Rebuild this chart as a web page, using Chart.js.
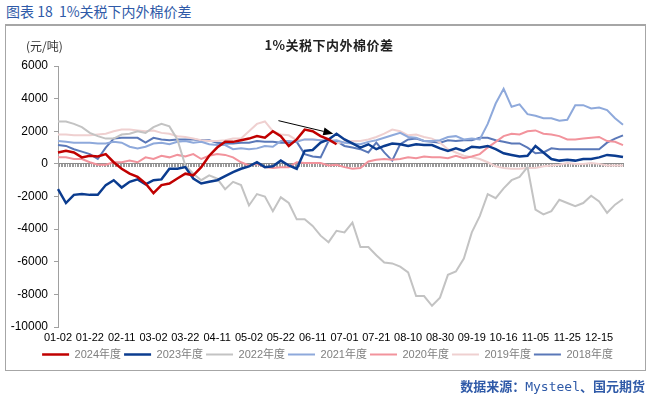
<!DOCTYPE html>
<html>
<head>
<meta charset="utf-8">
<script src="https://cdn.jsdelivr.net/npm/chart.js@4.4.0/dist/chart.umd.min.js"></script>
<style>
  body { margin: 0; width: 652px; height: 395px; background: #fff; position: relative; overflow: hidden;
         font-family: "Noto Sans CJK SC", sans-serif; }
  #head { position: absolute; left: 6px; top: 1px; font-size: 14px; color: #2F5AA8; white-space: nowrap; }
  #frame { position: absolute; left: 5px; top: 24px; width: 641px; height: 347px; box-sizing: border-box;
           border: 1px solid #A6A6A6; border-top: 2px solid #A6A6A6; }
  #wrap { position: absolute; left: 6px; top: 26px; width: 638px; height: 351px; }
  #ctitle { position: absolute; left: 3px; width: 652px; top: 35px; text-align: center; font-size: 13px;
            font-weight: bold; letter-spacing: 0.5px; color: #222; }
  #unit { position: absolute; left: 26px; top: 37px; font-size: 12px; color: #333; }
  #source { position: absolute; right: 7px; top: 376px; font-size: 13px; font-weight: bold; color: #2F5AA8; white-space: nowrap; }
  #source span { font-family: "DejaVu Sans Mono", monospace; font-weight: normal; }
</style>
</head>
<body>
<div id="head">图表 18&nbsp; 1%关税下内外棉价差</div>
<div id="frame"></div>
<div id="wrap"><canvas id="chart" width="638" height="351"></canvas></div>
<div id="ctitle">1%关税下内外棉价差</div>
<div id="unit">(元/吨)</div>
<div id="source">数据来源：<span>Mysteel</span>、国元期货</div>

<script>
// Dates (every 5th day), only every 4th one gets a label
const dates = [
  '01-02', '01-07', '01-12', '01-17', '01-22', '01-27', '02-01', '02-06', '02-11', '02-16', '02-21', '02-26',
  '03-02', '03-07', '03-12', '03-17', '03-22', '03-27', '04-01', '04-06', '04-11', '04-16', '04-21', '04-26',
  '05-02', '05-07', '05-12', '05-17', '05-22', '05-27', '06-01', '06-06', '06-11', '06-16', '06-21', '06-26',
  '07-01', '07-06', '07-11', '07-16', '07-21', '07-26', '07-31', '08-05', '08-10', '08-15', '08-20', '08-25',
  '08-30', '09-04', '09-09', '09-14', '09-19', '09-24', '09-29', '10-11', '10-16', '10-21', '10-26', '10-31',
  '11-05', '11-10', '11-15', '11-20', '11-25', '11-30', '12-05', '12-10', '12-15', '12-20', '12-25', '12-30',
];

// Price spread (yuan / ton)
const y2024 = [
  700, 800, 700, 400, 500, 450, 600, 100, -300, -600, -800, -1200,
  -1800, -1300, -1200, -900, -600, -700, -200, 500, 1000, 1350, 1350, 1450,
  1550, 1700, 1600, 2000, 1700, 1100, 1500, 2100, 2000, 1700, 1500, 1200,
];
const y2023 = [
  -1550, -2400, -1900, -1850, -1900, -1900, -1300, -1000, -1450, -1100, -950, -1250,
  -1000, -950, -300, -300, -200, -900, -1200, -1100, -1000, -750, -500, -300,
  -150, 100, -200, -150, 200, -100, -300, 800, 850, 1300, 1500, 1850,
  1500, 1250, 1000, 1200, 900, 1100, 1250, 1200, 1100, 1200, 1150, 1150,
  950, 800, 950, 800, 1050, 1000, 1100, 900, 650, 550, 450, 500,
  1100, 700, 300, 200, 250, 200, 300, 300, 400, 550, 500, 420,
];
const y2022 = [
  2600, 2600, 2450, 2250, 1900, 1700, 1550, 1550, 1800, 1850, 2000, 1900,
  2250, 2450, 2300, 1500, -100, -600, -1000, -700, -900, -1550, -1100, -1300,
  -2550, -1850, -2000, -2900, -2050, -2400, -3400, -3400, -3800, -4400, -4800, -4100,
  -4200, -3600, -5100, -5100, -5600, -6050, -6100, -6300, -6650, -8100, -8100, -8700,
  -8200, -6800, -6600, -5800, -4200, -3200, -1850, -2100, -1500, -1000, -800, -200,
  -2800, -3100, -2900, -2200, -2400, -2600, -2400, -1950, -2300, -3000, -2500, -2150,
];
const y2021 = [
  1400, 1350, 1300, 1300, 1300, 1250, 1250, 1350, 1300, 1050, 950, 1050,
  1250, 1300, 1200, 1350, 1400, 1300, 1350, 1200, 1150, 1150, 900, 950,
  900, 950, 1100, 1050, 1400, 1400, 1350, 1500, 1500, 1450, 1400, 1450,
  1300, 1250, 1200, 1350, 1450, 1600, 1750, 1900, 1650, 1600, 1400, 1400,
  1450, 1650, 1700, 1500, 1550, 1500, 2450, 3700, 4600, 3500, 3650, 3050,
  2950, 2800, 2800, 2650, 2700, 3600, 3600, 3400, 3450, 3300, 2800, 2400,
];
const y2020 = [
  400, 400, 300, 300, 100, -50, -50, 100, 100, 200, 100, 400,
  300, 500, 400, 550, 450, 600, 300, 500, 600, 550, 400, 100,
  -100, 0, -200, -250, -200, -200, 100, 50, 50, 50, -100, -50,
  -200, -300, -250, 150, 250, 300, 250, 300, 400, 350, 450, 400,
  400, 350, 500, 350, 450, 600, 1000, 1350, 1700, 1850, 1800, 2000,
  2050, 1850, 1800, 1700, 1500, 1500, 1550, 1600, 1650, 1400, 1350, 1150,
];
const y2019 = [
  1800, 1800, 1750, 1750, 1750, 1800, 1850, 2000, 2100, 2100, 2050, 2000,
  2050, 1900, 1850, 1700, 1650, 1550, 1450, 1400, 1400, 1450, 1550, 1550,
  2000, 2450, 2600, 2000, 1800, 1750, 1450, 1500, 1500, 1450, 1400, 1250,
  1350, 1400, 1400, 1500, 1650, 1850, 2100, 2000, 1750, 1800, 1650, 1550,
  1300, 900, 700, 500, 400, 300, 100, -150, -250, -300, -300, -250,
  -250, -150, -100, -50, 50, 0, 0, 50, 0, -100, -100, -100,
];
const y2018 = [
  1150, 1100, 900, 750, 600, 300, 1000, 1550, 1600, 1600, 1600, 1300,
  1600, 1500, 1450, 1500, 1500, 1500, 1450, 1450, 1300, 1250, 1250, 1300,
  1300, 1400, 1350, 1350, 1300, 1300, 1350, 600, 450, 400, 1400, 1400,
  1100, 1000, 900, 700, 1300, 700, 200, 1200, 1500, 1550, 1400, 1350,
  1300, 1450, 1400, 1450, 1450, 1600, 1600, 1450, 1350, 1250, 1250, 1000,
  650, 700, 950, 900, 900, 900, 900, 900, 900, 1300, 1550, 1750,
];

const seriesNames = ['2024年度', '2023年度', '2022年度', '2021年度', '2020年度', '2019年度', '2018年度'];
const seriesData = [y2024, y2023, y2022, y2021, y2020, y2019, y2018];
const seriesColors = ['#C00000', '#0B3C8F', '#C3C3C3', '#8EA9DB', '#F2939C', '#EFD0D0', '#5A78B8'];
const seriesWidths = [2.5, 2.5, 2, 2, 2, 2, 2];

// Arrow annotation in data units: [category index, value]
const arrowFrom = [27.7, 2650];
const arrowTo = [34.6, 1850];

const fontLatin = '"Liberation Sans", "Noto Sans CJK SC", sans-serif';

const arrowPlugin = {
  id: 'arrow',
  afterDatasetsDraw(chart) {
    const { ctx, scales } = chart;
    const x1 = scales.x.getPixelForValue(arrowFrom[0]);
    const y1 = scales.y.getPixelForValue(arrowFrom[1]);
    const x2 = scales.x.getPixelForValue(arrowTo[0]);
    const y2 = scales.y.getPixelForValue(arrowTo[1]);
    const ang = Math.atan2(y2 - y1, x2 - x1);
    const head = 10;
    ctx.save();
    ctx.strokeStyle = '#000';
    ctx.fillStyle = '#000';
    ctx.lineWidth = 1;
    ctx.beginPath();
    ctx.moveTo(x1, y1);
    ctx.lineTo(x2 - head * Math.cos(ang), y2 - head * Math.sin(ang));
    ctx.stroke();
    ctx.beginPath();
    ctx.moveTo(x2, y2);
    ctx.lineTo(x2 - head * Math.cos(ang) + 4 * Math.sin(ang), y2 - head * Math.sin(ang) - 4 * Math.cos(ang));
    ctx.lineTo(x2 - head * Math.cos(ang) - 4 * Math.sin(ang), y2 - head * Math.sin(ang) + 4 * Math.cos(ang));
    ctx.closePath();
    ctx.fill();
    ctx.restore();
  },
};

// Nudge the legend so it is centred under the whole frame, not the padded box
const legendShift = {
  id: 'legendShift',
  afterLayout(chart) {
    if (chart.legend) {
      chart.legend.left += 13;
      chart.legend.right += 13;
    }
  },
};

const datasets = seriesNames.map((name, i) => ({
  label: name,
  data: seriesData[i],
  borderColor: seriesColors[i],
  backgroundColor: seriesColors[i],
  borderWidth: seriesWidths[i],
  pointRadius: 0,
  tension: 0,
  spanGaps: false,
}));

new Chart(document.getElementById('chart'), {
  type: 'line',
  data: { labels: dates, datasets },
  plugins: [arrowPlugin, legendShift],
  options: {
    responsive: false,
    animation: false,
    layout: { padding: { top: 40, right: 21, bottom: 7, left: 0 } },
    plugins: {
      tooltip: { enabled: false },
      legend: {
        position: 'bottom',
        labels: {
          usePointStyle: true,
          pointStyle: 'line',
          pointStyleWidth: 27,
          padding: 3,
          color: '#7F7F7F',
          font: { family: fontLatin, size: 11 },
        },
      },
    },
    scales: {
      x: {
        offset: false,
        grid: { display: false, drawTicks: false },
        border: { display: false },
        ticks: {
          autoSkip: false,
          maxRotation: 0,
          padding: 4,
          color: '#000',
          font: { family: fontLatin, size: 11 },
          callback: (v, i) => (i % 4 === 0 && i <= 68 ? dates[i] : ''),
        },
        afterFit: scale => { scale.height = 19; },
      },
      // zero line with a small tick for every day, as in the original
      x2: {
        type: 'linear',
        position: { y: 0 },
        min: 0,
        max: 355,
        ticks: { display: false, stepSize: 1, autoSkip: false },
        grid: { display: true, drawOnChartArea: false, drawTicks: true, tickLength: 3, color: '#9A9A9A', lineWidth: 1 },
        border: { display: true, color: '#8C8C8C', width: 1 },
      },
      y: {
        min: -10000,
        max: 6000,
        ticks: {
          stepSize: 2000,
          padding: 6,
          color: '#000',
          font: { family: fontLatin, size: 12 },
          callback: v => String(v),
        },
        grid: { display: true, drawOnChartArea: false, drawTicks: true, tickLength: 4, color: '#A0A0A0' },
        border: { display: true, color: '#A0A0A0' },
        afterFit: scale => { scale.width = 52; },
      },
    },
  },
});
</script>
</body>
</html>
